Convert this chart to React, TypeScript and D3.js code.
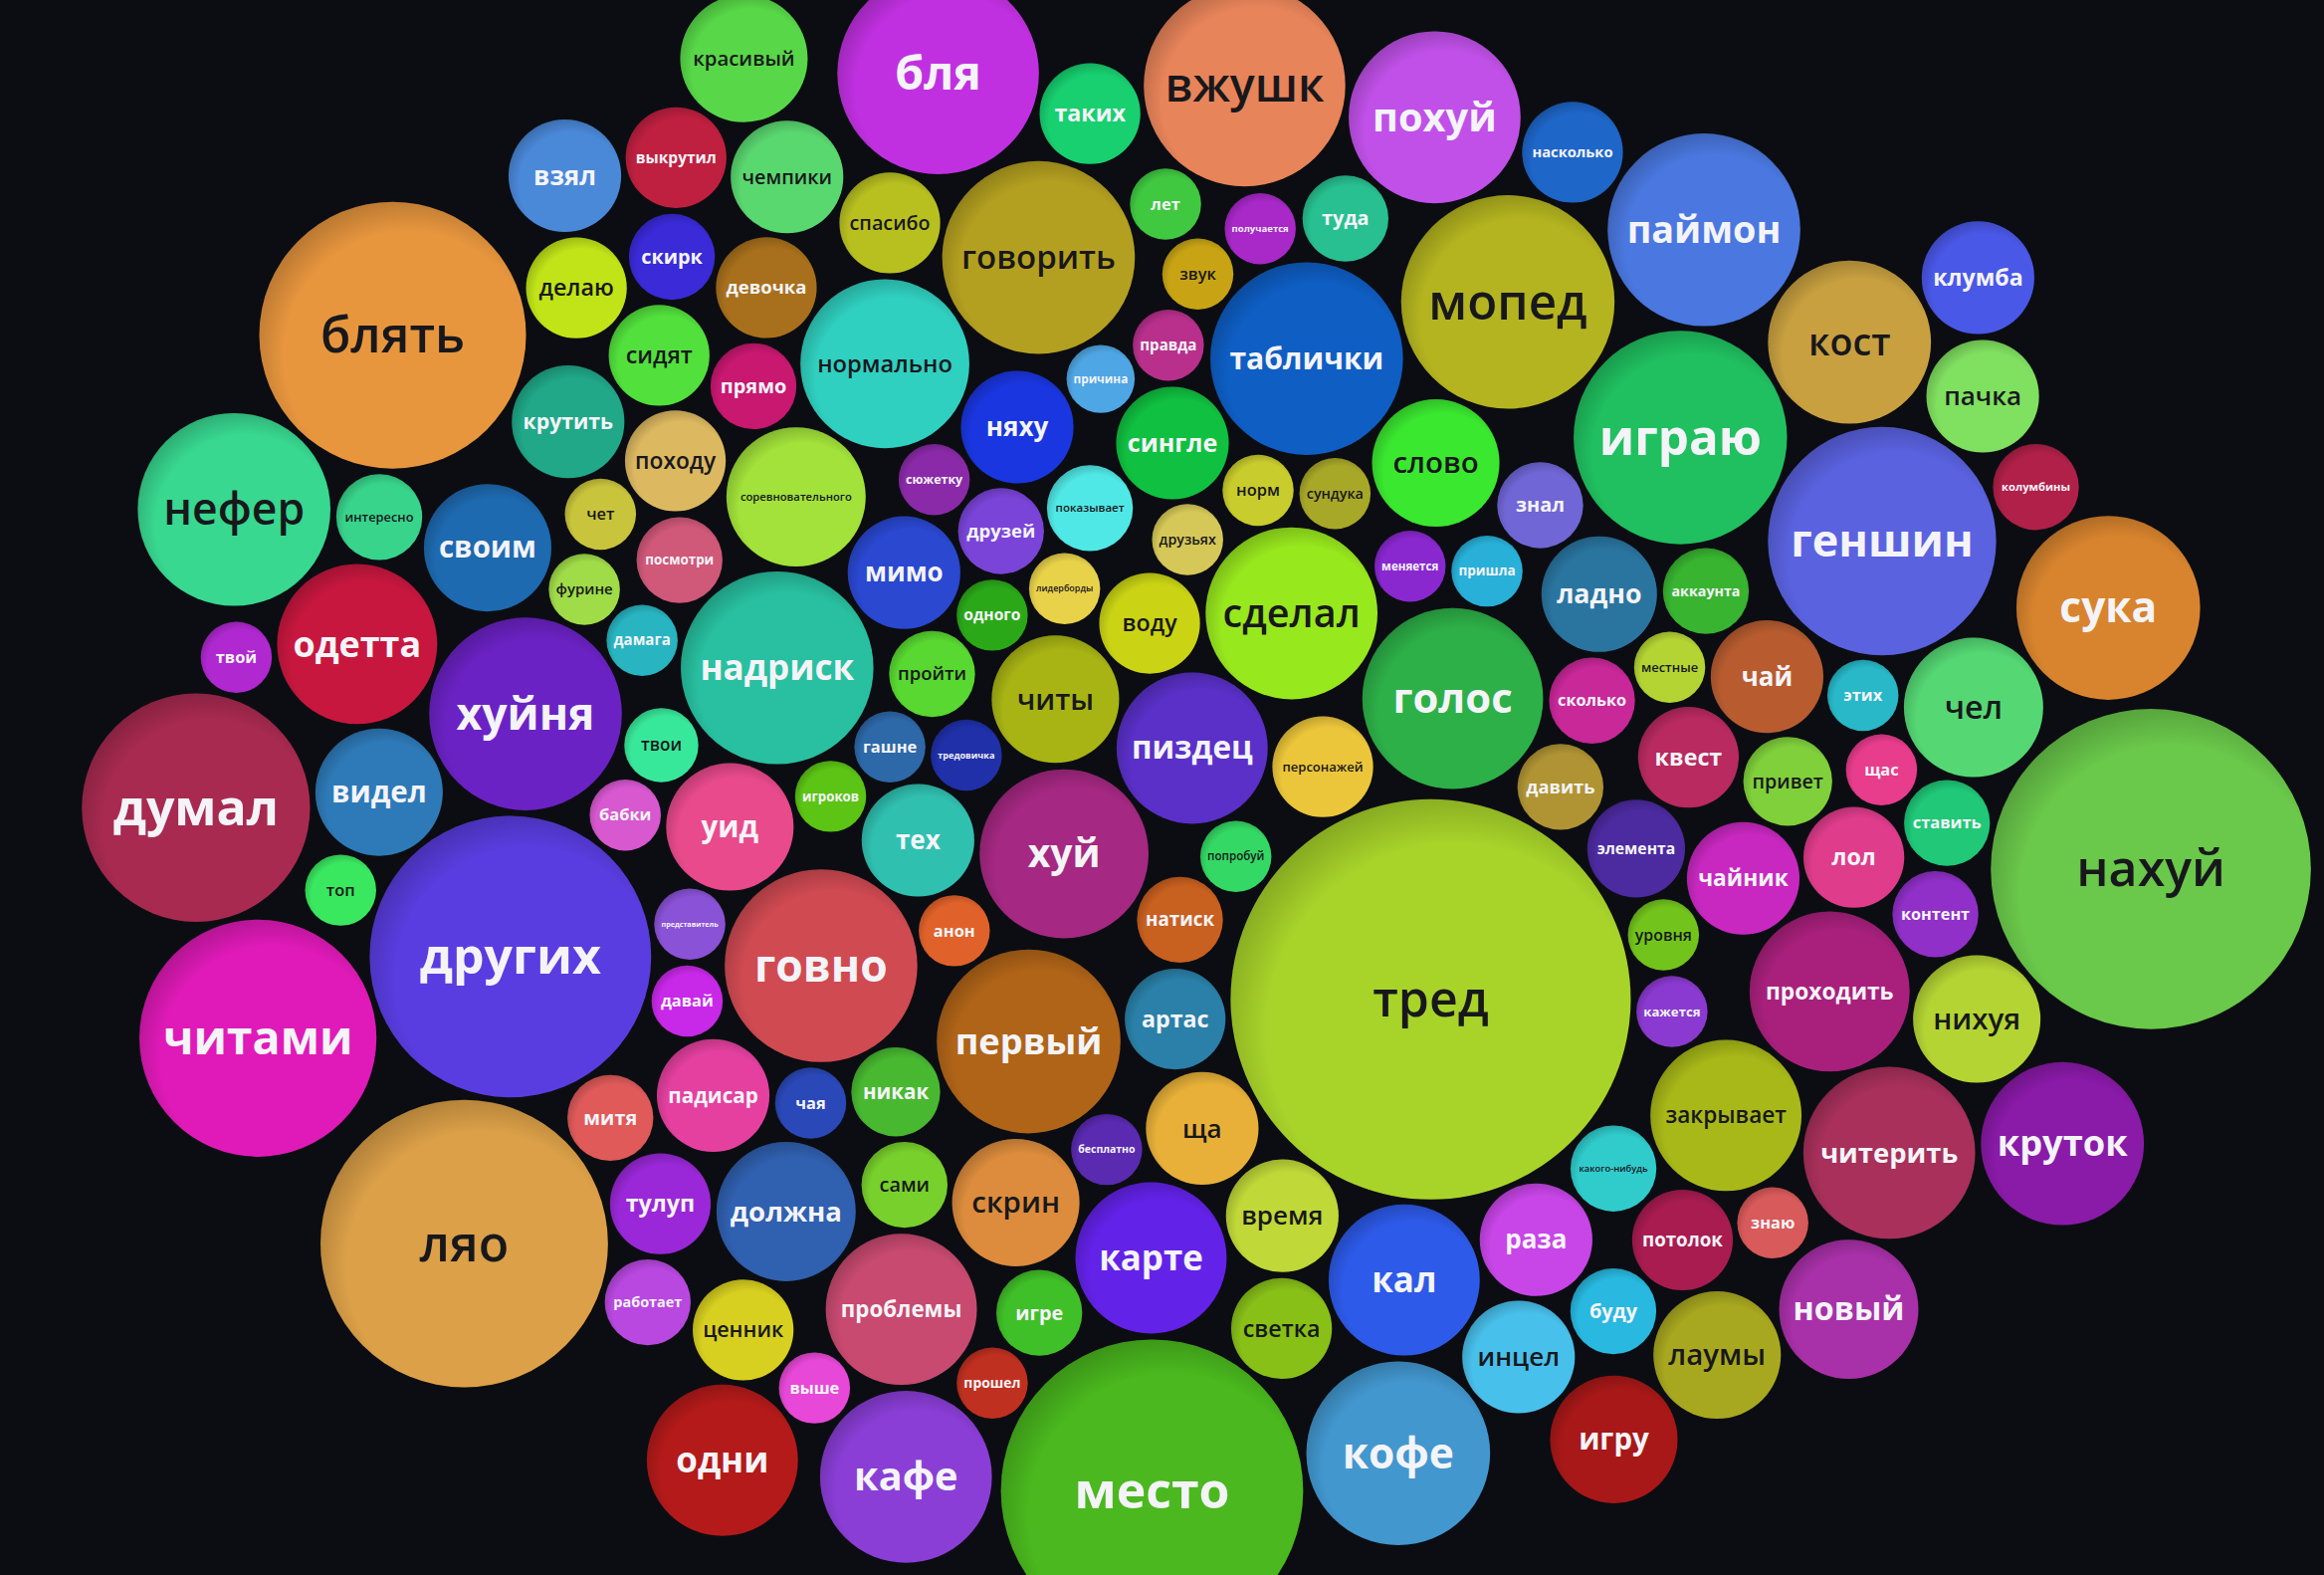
import React, { useEffect, useRef } from 'react';
import * as d3 from 'd3';

// word bubbles, listed roughly from the middle of the cloud outwards
const words = [
  'норм', 'тех', 'показывает', 'читы', 'пройти', 'пиздец', 'гашне', 'сюжетку', 'попробуй', 'игроков',
  'лидерборды', 'хуй', 'одного', 'персонажей', 'анон', 'друзьях', 'тред', 'надриск', 'сделал', 'натиск',
  'тредовичка', 'элемента', 'говно', 'воду', 'время', 'дамага', 'голос', 'первый', 'друзей', 'уровня',
  'уид', 'сундука', 'артас', 'соревновательного', 'давить', 'никак', 'сингле', 'какого-нибудь', 'фурине', 'ладно',
  'бесплатно', 'мимо', 'чайник', 'представитель', 'таблички', 'кал', 'посмотри', 'сколько', 'сами', 'няху',
  'кажется', 'твои', 'меняется', 'ща', 'прямо', 'квест', 'давай', 'правда', 'раза', 'походу',
  'чай', 'проблемы', 'нормально', 'привет', 'бабки', 'слово', 'светка', 'сидят', 'этих', 'должна',
  'причина', 'закрывает', 'хуйня', 'местные', 'скрин', 'девочка', 'лол', 'чая', 'получается', 'потолок',
  'чет', 'пришла', 'ценник', 'говорить', 'проходить', 'видел', 'знал', 'карте', 'скирк', 'чел',
  'падисар', 'звук', 'знаю', 'своим', 'аккаунта', 'прошел', 'чемпики', 'контент', 'других', 'мопед',
  'инцел', 'крутить', 'геншин', 'тулуп', 'таких', 'читерить', 'одетта', 'играю', 'игре', 'выкрутил',
  'щас', 'митя', 'туда', 'буду', 'интересно', 'пачка', 'выше', 'спасибо', 'нихуя', 'топ',
  'насколько', 'кофе', 'делаю', 'сука', 'работает', 'лет', 'новый', 'твой', 'кост', 'кафе',
  'красивый', 'ставить', 'читами', 'похуй', 'игру', 'блять', 'колумбины', 'одни', 'бля', 'круток',
  'думал', 'паймон', 'место', 'взял', 'нахуй', 'ляо', 'вжушк', 'лаумы', 'нефер', 'клумба',
];

// bubble size (radius)
const sizes = [
  24, 38, 29, 43, 29, 51, 24, 24, 24, 24,
  24, 57, 24, 34, 24, 24, 135, 65, 58, 29,
  24, 33, 65, 34, 38, 24, 61, 62, 29, 24,
  43, 24, 34, 47, 29, 30, 38, 29, 24, 39,
  24, 38, 38, 24, 65, 51, 29, 29, 29, 38,
  24, 25, 24, 38, 29, 34, 24, 24, 38, 34,
  38, 51, 57, 30, 24, 43, 34, 34, 24, 47,
  23, 51, 65, 24, 43, 34, 34, 24, 24, 34,
  24, 24, 34, 65, 54, 43, 29, 51, 29, 47,
  38, 24, 24, 43, 29, 24, 38, 29, 95, 72,
  38, 38, 77, 34, 34, 58, 54, 72, 29, 34,
  24, 29, 29, 29, 29, 38, 24, 34, 43, 24,
  34, 62, 34, 62, 29, 24, 47, 24, 55, 58,
  43, 29, 80, 58, 43, 90, 29, 51, 68, 55,
  77, 65, 102, 38, 108, 97, 68, 43, 65, 38,
];

const colors = [
  '#c8cc2c', '#30c0b0', '#50e8e6', '#a8b414', '#58d830', '#5a30c8', '#2d68a8', '#8a2aa8', '#34d864', '#5cc414',
  '#e8d24a', '#a52882', '#2aa818', '#ecc63a', '#e0622a', '#d6c858', '#a8d42a', '#28c0a0', '#98e81e', '#c86020',
  '#2030a8', '#4c2aa0', '#d04a52', '#cad414', '#c0d838', '#28b4c0', '#2db048', '#b06418', '#7a44d8', '#72c41c',
  '#e84a8c', '#a8a828', '#2a80a8', '#a2e23a', '#b09434', '#48b830', '#10c040', '#30cccc', '#a0dc48', '#2a75a0',
  '#5a2ab0', '#2a48d0', '#c828c0', '#8a52d6', '#0e5ec4', '#2d5ae8', '#d05878', '#c82898', '#78d02c', '#1a36e0',
  '#8a3ad0', '#38e89a', '#8a28d0', '#e8b038', '#c81870', '#b82a60', '#c828e8', '#b8308c', '#c845e8', '#dcb860',
  '#b85c30', '#c84a70', '#30d0c0', '#80d03c', '#d858d0', '#3ae830', '#88c018', '#52e03c', '#28b8c8', '#3060b0',
  '#4fa6e4', '#a8b818', '#6b22c4', '#b4d434', '#dc8c3c', '#a8701c', '#e03c8c', '#2a48b8', '#a828c8', '#a81c50',
  '#c8c43c', '#28b0d8', '#d8d020', '#b4a020', '#a8207c', '#2e7ab8', '#7066d6', '#6322e8', '#3a2ad8', '#55d874',
  '#e540a0', '#c8a414', '#d85a5a', '#1e6ab0', '#38b430', '#c03020', '#5ad870', '#9030c8', '#5a3de0', '#b4b420',
  '#48c0ec', '#20a888', '#5a62e0', '#9a28d8', '#18d070', '#a8305a', '#c8173f', '#20c060', '#40c028', '#c02040',
  '#e83c8c', '#e05a5a', '#28c090', '#28b8e0', '#38d48c', '#80e060', '#e848d8', '#b8c020', '#b4d434', '#3ae860',
  '#1e66c8', '#4297cf', '#c0e418', '#d8842e', '#b848e0', '#40c840', '#a830a8', '#b028d0', '#c8a040', '#8a3ed6',
  '#58d848', '#20c878', '#e01ab8', '#c050e8', '#a81818', '#e8963e', '#b02048', '#b41a1a', '#c030e0', '#8a1aa8',
  '#a82a50', '#4a78e0', '#4ab81e', '#4a88d8', '#6ac84a', '#dca048', '#e8845a', '#a8a820', '#38d890', '#4a58e8',
];

type Bubble = d3.SimulationNodeDatum & { word: string; r: number; fill: string };

const WIDTH = 2335;
const HEIGHT = 1582;
const BG = '#0c0d12';
const PAD = 3;

// dark label on bright bubbles, white otherwise
const labelColor = (fill: string) => {
  const c = d3.rgb(fill);
  return c.r * 0.299 + c.g * 0.587 + c.b * 0.114 >= 150 ? '#18181c' : '#f4f4f8';
};

const App: React.FC = () => {
  const ref = useRef<SVGSVGElement>(null);

  useEffect(() => {
    if (!ref.current) return;
    const svg = d3.select(ref.current);
    svg.selectAll('*').remove();

    const rScale = d3.scaleLinear().domain([0, 135]).range([0, 201]);
    const cx = WIDTH / 2;
    const cy = HEIGHT / 2;
    const golden = Math.PI * (3 - Math.sqrt(5));

    // start on an area-weighted spiral so the list order survives the layout
    let area = 0;
    const nodes: Bubble[] = words.map((word, i) => {
      const r = rScale(sizes[i]);
      const a = Math.PI * (r + PAD) * (r + PAD);
      const rho = Math.sqrt((area + a / 2) / (Math.PI * 0.78));
      area += a;
      return {
        word,
        r,
        fill: colors[i],
        x: cx + rho * 1.15 * Math.cos(i * golden),
        y: cy + rho * 0.88 * Math.sin(i * golden),
      };
    });

    const sim = d3
      .forceSimulation<Bubble>(nodes)
      .force('x', d3.forceX<Bubble>(cx).strength(0.04))
      .force('y', d3.forceY<Bubble>(cy).strength(0.075))
      .force('collide', d3.forceCollide<Bubble>(d => d.r + PAD).strength(1).iterations(4))
      .alpha(0.6)
      .alphaDecay(0.008)
      .stop();
    for (let i = 0; i < 800; i++) sim.tick();

    const defs = svg.append('defs');
    const shade = defs
      .append('radialGradient')
      .attr('id', 'shade')
      .attr('cx', '0.56')
      .attr('cy', '0.58')
      .attr('r', '0.6');
    shade.append('stop').attr('offset', '0.78').attr('stop-color', '#000').attr('stop-opacity', 0);
    shade.append('stop').attr('offset', '1').attr('stop-color', '#000').attr('stop-opacity', 0.2);

    svg.append('rect').attr('width', WIDTH).attr('height', HEIGHT).attr('fill', BG);

    const g = svg
      .selectAll('g.bubble')
      .data(nodes)
      .enter()
      .append('g')
      .attr('class', 'bubble')
      .attr('transform', d => `translate(${d.x},${d.y})`);

    g.append('circle').attr('r', d => d.r).attr('fill', d => d.fill);
    g.append('circle').attr('r', d => d.r).attr('fill', 'url(#shade)');

    g.append('text')
      .attr('text-anchor', 'middle')
      .attr('dy', '0.35em')
      .attr('font-family', '"Open Sans", "Noto Sans", sans-serif')
      .attr('font-weight', d => (labelColor(d.fill) === '#18181c' ? 600 : 700))
      .attr('fill', d => labelColor(d.fill))
      .attr('font-size', d => Math.min(50, d.r * 0.46))
      .text(d => d.word)
      .each(function (d) {
        const el = this as SVGTextElement;
        const base = Math.min(50, d.r * 0.46);
        const len = el.getComputedTextLength();
        const maxLen = d.r * 1.6;
        if (len > maxLen) el.setAttribute('font-size', String((base * maxLen) / len));
      });
  }, []);

  return (
    <svg
      ref={ref}
      width={WIDTH}
      height={HEIGHT}
      style={{ position: 'fixed', left: 0, top: 0, display: 'block' }}
    />
  );
};

export default App;
